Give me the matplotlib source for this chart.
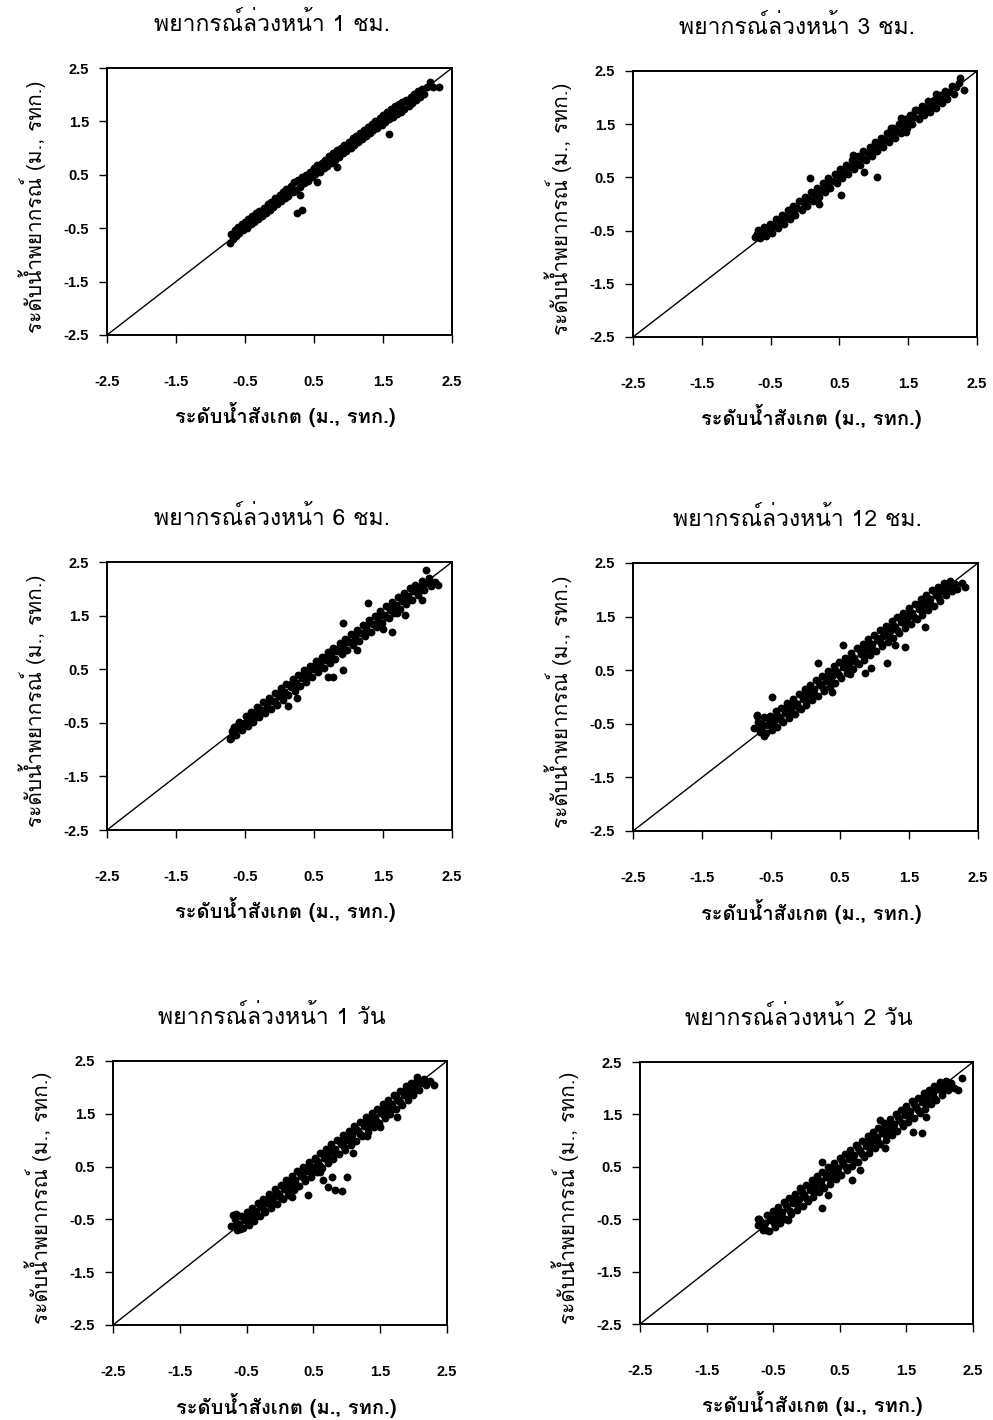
import matplotlib
matplotlib.use("Agg")
import matplotlib.pyplot as plt

plt.rcParams['font.family'] = ['Liberation Sans', 'DejaVu Sans']
THAI = ['Loma', 'DejaVu Sans']

# ระดับน้ำสังเกต (obs) กับระดับน้ำพยากรณ์ (pred), ม. รทก.
obs_1h = [
    -0.72, -0.71, -0.68, -0.65, -0.63, -0.60, -0.58, -0.55, -0.53, -0.50,
    -0.47, -0.45, -0.42, -0.40, -0.37, -0.34, -0.31, -0.29, -0.26, -0.23,
    -0.20, -0.17, -0.14, -0.12, -0.09, -0.06, -0.03, 0.00, 0.02, 0.05,
    0.08, 0.10, 0.13, 0.16, 0.19, 0.21, 0.24, 0.27, 0.30, 0.33,
    0.36, 0.38, 0.41, 0.44, 0.47, 0.50, 0.52, 0.55, 0.58, 0.61,
    0.64, 0.66, 0.69, 0.72, 0.75, 0.78, 0.80, 0.83, 0.86, 0.89,
    0.92, 0.94, 0.97, 1.00, 1.03, 1.06, 1.08, 1.11, 1.14, 1.17,
    1.20, 1.22, 1.25, 1.28, 1.31, 1.34, 1.36, 1.39, 1.42, 1.45,
    1.48, 1.50, 1.53, 1.56, 1.59, 1.62, 1.64, 1.67, 1.70, 1.73,
    1.76, 1.78, 1.81, 1.84, 1.87, 1.90, 1.92, 1.95, 1.98, 2.01,
    2.04, 2.07, 2.10, 2.14, 2.18, 2.22, 2.31, 1.30, 1.45, 1.55,
    1.65, 1.75, 1.85, 1.95, 2.05, 1.15, 1.00, 0.85, 0.70, 0.55,
    0.40, 0.26, 0.33, 1.58, 0.30, 0.54, 0.83, -0.35, -0.10, 0.15,
]
pred_1h = [
    -0.78, -0.60, -0.70, -0.54, -0.64, -0.48, -0.59, -0.43, -0.54, -0.38,
    -0.49, -0.33, -0.43, -0.28, -0.38, -0.22, -0.33, -0.17, -0.27, -0.12,
    -0.22, -0.05, -0.16, 0.00, -0.10, 0.06, -0.04, 0.12, 0.01, 0.17,
    0.06, 0.24, 0.11, 0.29, 0.17, 0.36, 0.22, 0.40, 0.27, 0.46,
    0.34, 0.50, 0.39, 0.56, 0.45, 0.62, 0.51, 0.68, 0.56, 0.73,
    0.62, 0.78, 0.67, 0.85, 0.73, 0.90, 0.78, 0.96, 0.84, 1.01,
    0.90, 1.06, 0.95, 1.12, 1.01, 1.18, 1.06, 1.23, 1.12, 1.29,
    1.17, 1.34, 1.22, 1.40, 1.28, 1.46, 1.33, 1.51, 1.38, 1.57,
    1.44, 1.62, 1.49, 1.67, 1.54, 1.73, 1.59, 1.78, 1.64, 1.83,
    1.68, 1.86, 1.74, 1.91, 1.79, 1.96, 1.85, 2.01, 1.90, 2.06,
    1.96, 2.10, 2.02, 2.15, 2.24, 2.14, 2.14, 1.36, 1.51, 1.61,
    1.70, 1.80, 1.88, 1.97, 2.04, 1.21, 1.06, 0.91, 0.76, 0.61,
    0.46, -0.22, -0.15, 1.26, 0.12, 0.37, 0.65, -0.30, -0.04, 0.21,
]

obs_3h = [
    -0.73, -0.70, -0.68, -0.65, -0.62, -0.59, -0.56, -0.53, -0.51, -0.48,
    -0.45, -0.42, -0.39, -0.36, -0.34, -0.31, -0.28, -0.25, -0.22, -0.19,
    -0.17, -0.14, -0.11, -0.08, -0.05, -0.02, 0.00, 0.03, 0.06, 0.09,
    0.12, 0.15, 0.17, 0.20, 0.23, 0.26, 0.29, 0.32, 0.34, 0.37,
    0.40, 0.43, 0.46, 0.49, 0.51, 0.54, 0.57, 0.60, 0.63, 0.66,
    0.68, 0.71, 0.74, 0.77, 0.80, 0.83, 0.85, 0.88, 0.91, 0.94,
    0.97, 1.00, 1.02, 1.05, 1.08, 1.11, 1.14, 1.17, 1.19, 1.22,
    1.25, 1.28, 1.31, 1.34, 1.36, 1.39, 1.42, 1.45, 1.48, 1.51,
    1.53, 1.56, 1.59, 1.62, 1.65, 1.68, 1.70, 1.73, 1.76, 1.79,
    1.82, 1.85, 1.87, 1.90, 1.93, 1.96, 1.99, 2.02, 2.04, 2.07,
    2.10, 2.13, 2.16, 2.20, 2.24, 0.53, 1.04, 2.31, 2.26, 0.86,
    0.07, 0.21, 1.40, 1.47, 1.90, -0.60, -0.66, 0.70, 1.25, 1.60,
]
pred_3h = [
    -0.62, -0.56, -0.48, -0.64, -0.53, -0.44, -0.60, -0.48, -0.38, -0.54,
    -0.41, -0.28, -0.45, -0.32, -0.20, -0.37, -0.24, -0.11, -0.28, -0.15,
    -0.03, -0.20, -0.07, 0.06, -0.11, 0.02, 0.14, -0.03, 0.10, 0.23,
    0.06, 0.19, 0.31, 0.14, 0.27, 0.40, 0.23, 0.36, 0.48, 0.31,
    0.44, 0.57, 0.40, 0.53, 0.65, 0.48, 0.61, 0.74, 0.57, 0.70,
    0.82, 0.65, 0.78, 0.91, 0.74, 0.87, 0.99, 0.82, 0.95, 1.08,
    0.91, 1.04, 1.16, 0.99, 1.12, 1.25, 1.08, 1.21, 1.33, 1.16,
    1.29, 1.42, 1.25, 1.38, 1.50, 1.33, 1.46, 1.59, 1.42, 1.55,
    1.67, 1.50, 1.63, 1.76, 1.59, 1.72, 1.84, 1.67, 1.80, 1.93,
    1.72, 1.85, 1.95, 1.80, 1.93, 2.04, 1.89, 2.02, 2.12, 1.97,
    2.10, 2.21, 2.06, 2.19, 2.27, 0.17, 0.51, 2.14, 2.37, 0.60,
    0.49, 0.00, 1.62, 1.36, 2.06, -0.47, -0.50, 0.93, 1.43, 1.77,
]

obs_6h = [
    -0.72, -0.69, -0.66, -0.63, -0.61, -0.58, -0.55, -0.52, -0.49, -0.46,
    -0.44, -0.41, -0.38, -0.35, -0.32, -0.29, -0.27, -0.24, -0.21, -0.18,
    -0.15, -0.12, -0.10, -0.07, -0.04, -0.01, 0.02, 0.05, 0.07, 0.10,
    0.13, 0.16, 0.19, 0.22, 0.24, 0.27, 0.30, 0.33, 0.36, 0.39,
    0.41, 0.44, 0.47, 0.50, 0.53, 0.56, 0.58, 0.61, 0.64, 0.67,
    0.70, 0.73, 0.75, 0.78, 0.81, 0.84, 0.87, 0.90, 0.92, 0.95,
    0.98, 1.01, 1.04, 1.07, 1.09, 1.12, 1.15, 1.18, 1.21, 1.24,
    1.26, 1.29, 1.32, 1.35, 1.38, 1.41, 1.43, 1.46, 1.49, 1.52,
    1.55, 1.58, 1.60, 1.63, 1.66, 1.69, 1.72, 1.75, 1.77, 1.80,
    1.83, 1.86, 1.89, 1.92, 1.94, 1.97, 2.00, 2.03, 2.06, 2.09,
    2.12, 2.16, 2.20, 2.25, 2.30, 0.12, 0.25, 0.70, 0.92, 0.92,
    1.28, 1.63, 1.70, 2.13, 1.82, 0.78, 1.12, -0.70, 2.06, 1.50,
    -0.62, -0.54, -0.46, -0.38, -0.30, -0.22, -0.14, -0.06, 0.02, 0.10,
    0.18, 0.26, 0.34, 0.42, 0.50, 0.58, 0.66, 0.74, 0.82, 0.90,
    0.98, 1.06, 1.14, 1.22, 1.30, 1.38, 1.46, 1.54, 1.62, 1.70,
    1.78, 1.86, 1.94, 2.02, 2.10, 2.18,
]
pred_6h = [
    -0.80, -0.66, -0.57, -0.72, -0.60, -0.48, -0.64, -0.51, -0.38, -0.56,
    -0.43, -0.29, -0.49, -0.34, -0.21, -0.40, -0.26, -0.12, -0.32, -0.17,
    -0.03, -0.24, -0.09, 0.05, -0.16, 0.00, 0.14, -0.07, 0.08, 0.22,
    0.01, 0.17, 0.31, 0.10, 0.25, 0.39, 0.18, 0.33, 0.48, 0.27,
    0.42, 0.56, 0.35, 0.50, 0.65, 0.44, 0.59, 0.73, 0.52, 0.67,
    0.82, 0.61, 0.76, 0.90, 0.69, 0.84, 0.99, 0.78, 0.93, 1.07,
    0.86, 1.01, 1.16, 0.95, 1.10, 1.24, 1.03, 1.18, 1.33, 1.12,
    1.27, 1.41, 1.20, 1.35, 1.50, 1.29, 1.44, 1.58, 1.37, 1.52,
    1.67, 1.46, 1.61, 1.75, 1.54, 1.69, 1.84, 1.63, 1.78, 1.92,
    1.71, 1.86, 2.01, 1.80, 1.95, 2.08, 1.88, 2.03, 2.15, 1.97,
    2.10, 2.20, 2.06, 2.12, 2.07, -0.18, -0.04, 0.35, 0.49, 1.36,
    1.73, 1.19, 1.55, 2.35, 1.51, 0.36, 0.86, -0.78, 1.79, 1.25,
    -0.56, -0.60, -0.40, -0.44, -0.24, -0.28, -0.08, -0.12, 0.08, 0.04,
    0.24, 0.20, 0.40, 0.36, 0.56, 0.52, 0.72, 0.68, 0.88, 0.84,
    1.04, 1.00, 1.20, 1.16, 1.36, 1.32, 1.52, 1.48, 1.68, 1.64,
    1.84, 1.80, 2.00, 1.96, 2.10, 2.12,
]

obs_12h = [
    -0.74, -0.71, -0.69, -0.66, -0.63, -0.60, -0.57, -0.55, -0.52, -0.49,
    -0.46, -0.43, -0.41, -0.38, -0.35, -0.32, -0.29, -0.27, -0.24, -0.21,
    -0.18, -0.15, -0.13, -0.10, -0.07, -0.04, -0.01, 0.01, 0.04, 0.07,
    0.10, 0.13, 0.15, 0.18, 0.21, 0.24, 0.27, 0.29, 0.32, 0.35,
    0.38, 0.41, 0.43, 0.46, 0.49, 0.52, 0.55, 0.57, 0.60, 0.63,
    0.66, 0.69, 0.71, 0.74, 0.77, 0.80, 0.83, 0.85, 0.88, 0.91,
    0.94, 0.97, 0.99, 1.02, 1.05, 1.08, 1.11, 1.13, 1.16, 1.19,
    1.22, 1.25, 1.27, 1.30, 1.33, 1.36, 1.39, 1.41, 1.44, 1.47,
    1.50, 1.53, 1.55, 1.58, 1.61, 1.64, 1.67, 1.69, 1.72, 1.75,
    1.78, 1.81, 1.83, 1.86, 1.89, 1.92, 1.95, 1.97, 2.00, 2.03,
    2.06, 2.09, 2.12, 2.16, 2.20, 2.31, -0.49, 0.38, 0.86, 1.18,
    1.44, 1.73, 2.27, -0.70, -0.60, 0.65, 0.95, 1.30, 0.18, 0.54,
    -0.65, -0.59, -0.53, -0.47, -0.41, -0.35, -0.29, -0.23, -0.17, -0.11,
    -0.05, 0.01, 0.07, 0.13, 0.19, 0.25, 0.31, 0.37, 0.43, 0.49,
    0.55, 0.61, 0.67, 0.73, 0.79, 0.85, 0.91, 0.97, 1.03, 1.09,
    1.15, 1.21, 1.27, 1.33, 1.39, 1.45, 1.51, 1.57, 1.63, 1.69,
    1.75, 1.81, 1.87, 1.93, 1.99, 2.05, 2.11, 2.15,
]
pred_12h = [
    -0.58, -0.36, -0.46, -0.66, -0.50, -0.38, -0.68, -0.52, -0.35, -0.62,
    -0.45, -0.27, -0.56, -0.37, -0.20, -0.47, -0.29, -0.12, -0.40, -0.21,
    -0.03, -0.31, -0.13, 0.06, -0.22, -0.04, 0.15, -0.15, 0.05, 0.23,
    -0.06, 0.14, 0.31, 0.02, 0.22, 0.40, 0.11, 0.30, 0.49, 0.19,
    0.39, 0.57, 0.27, 0.47, 0.65, 0.36, 0.56, 0.73, 0.44, 0.64,
    0.83, 0.53, 0.72, 0.91, 0.61, 0.81, 0.99, 0.69, 0.89, 1.08,
    0.78, 0.98, 1.16, 0.86, 1.06, 1.25, 0.95, 1.14, 1.33, 1.03,
    1.23, 1.41, 1.11, 1.31, 1.50, 1.20, 1.40, 1.57, 1.28, 1.48,
    1.66, 1.37, 1.56, 1.74, 1.45, 1.65, 1.83, 1.53, 1.73, 1.91,
    1.62, 1.82, 1.99, 1.70, 1.90, 2.06, 1.80, 1.98, 2.13, 1.90,
    2.05, 2.16, 1.98, 2.10, 2.02, 2.05, 0.00, 0.09, 0.45, 0.63,
    0.93, 1.31, 2.12, -0.34, -0.72, 0.42, 0.55, 0.97, 0.63, 0.97,
    -0.57, -0.67, -0.45, -0.55, -0.33, -0.43, -0.21, -0.31, -0.09, -0.19,
    0.03, -0.07, 0.15, 0.05, 0.27, 0.17, 0.39, 0.29, 0.51, 0.41,
    0.63, 0.53, 0.75, 0.65, 0.87, 0.77, 0.99, 0.89, 1.11, 1.01,
    1.23, 1.13, 1.35, 1.25, 1.47, 1.37, 1.59, 1.49, 1.71, 1.61,
    1.83, 1.73, 1.95, 1.85, 2.06, 1.97, 2.12, 2.06,
]

obs_1d = [
    -0.73, -0.70, -0.67, -0.64, -0.62, -0.59, -0.56, -0.53, -0.50, -0.47,
    -0.45, -0.42, -0.39, -0.36, -0.33, -0.30, -0.28, -0.25, -0.22, -0.19,
    -0.16, -0.13, -0.11, -0.08, -0.05, -0.02, 0.01, 0.04, 0.06, 0.09,
    0.12, 0.15, 0.18, 0.21, 0.23, 0.26, 0.29, 0.32, 0.35, 0.38,
    0.40, 0.43, 0.46, 0.49, 0.52, 0.55, 0.57, 0.60, 0.63, 0.66,
    0.69, 0.72, 0.74, 0.77, 0.80, 0.83, 0.86, 0.89, 0.91, 0.94,
    0.97, 1.00, 1.03, 1.06, 1.08, 1.11, 1.14, 1.17, 1.20, 1.23,
    1.25, 1.28, 1.31, 1.34, 1.37, 1.40, 1.42, 1.45, 1.48, 1.51,
    1.54, 1.57, 1.59, 1.62, 1.65, 1.68, 1.71, 1.74, 1.76, 1.79,
    1.82, 1.85, 1.88, 1.91, 1.93, 1.96, 1.99, 2.02, 2.05, 2.08,
    2.11, 2.15, 2.19, 2.24, 2.31, 0.64, 0.78, 0.72, 0.82, 0.93,
    1.00, 0.42, 0.18, 1.10, -0.66, 1.75, 1.50, 0.60, 2.05, 1.30,
    -0.66, -0.60, -0.54, -0.48, -0.42, -0.36, -0.30, -0.24, -0.18, -0.12,
    -0.06, 0.00, 0.06, 0.12, 0.18, 0.24, 0.30, 0.36, 0.42, 0.48,
    0.54, 0.60, 0.66, 0.72, 0.78, 0.84, 0.90, 0.96, 1.02, 1.08,
    1.14, 1.20, 1.26, 1.32, 1.38, 1.44, 1.50, 1.56, 1.62, 1.68,
    1.74, 1.80, 1.86, 1.92, 1.98, 2.04, 2.10, 2.18,
]
pred_1d = [
    -0.63, -0.42, -0.50, -0.70, -0.58, -0.44, -0.66, -0.52, -0.36, -0.60,
    -0.44, -0.28, -0.53, -0.35, -0.19, -0.44, -0.27, -0.11, -0.36, -0.18,
    -0.01, -0.28, -0.10, 0.07, -0.20, -0.01, 0.16, -0.11, 0.07, 0.24,
    -0.03, 0.16, 0.33, 0.06, 0.24, 0.41, 0.14, 0.33, 0.50, 0.23,
    0.41, 0.58, 0.31, 0.50, 0.67, 0.40, 0.58, 0.75, 0.48, 0.67,
    0.84, 0.57, 0.75, 0.92, 0.65, 0.84, 1.01, 0.74, 0.92, 1.09,
    0.82, 1.01, 1.18, 0.91, 1.09, 1.26, 0.99, 1.18, 1.35, 1.08,
    1.26, 1.43, 1.16, 1.35, 1.52, 1.25, 1.43, 1.60, 1.33, 1.52,
    1.69, 1.42, 1.60, 1.77, 1.50, 1.69, 1.86, 1.59, 1.77, 1.94,
    1.67, 1.86, 2.02, 1.76, 1.94, 2.08, 1.85, 2.02, 2.14, 1.95,
    2.08, 2.16, 2.04, 2.12, 2.05, 0.25, 0.30, 0.12, 0.06, 0.04,
    0.30, -0.04, -0.08, 0.76, -0.40, 1.44, 1.25, 0.40, 2.20, 1.08,
    -0.58, -0.68, -0.47, -0.56, -0.35, -0.44, -0.23, -0.32, -0.11, -0.20,
    0.02, -0.08, 0.14, 0.04, 0.26, 0.16, 0.38, 0.28, 0.50, 0.40,
    0.62, 0.52, 0.74, 0.64, 0.86, 0.76, 0.98, 0.88, 1.10, 1.00,
    1.22, 1.12, 1.34, 1.24, 1.46, 1.36, 1.58, 1.48, 1.70, 1.60,
    1.82, 1.72, 1.94, 1.84, 2.05, 1.96, 2.10, 2.10,
]

obs_2d = [
    -0.73, -0.71, -0.68, -0.65, -0.62, -0.60, -0.57, -0.54, -0.51, -0.48,
    -0.46, -0.43, -0.40, -0.37, -0.34, -0.32, -0.29, -0.26, -0.23, -0.20,
    -0.18, -0.15, -0.12, -0.09, -0.06, -0.04, -0.01, 0.02, 0.05, 0.08,
    0.10, 0.13, 0.16, 0.19, 0.22, 0.24, 0.27, 0.30, 0.33, 0.36,
    0.38, 0.41, 0.44, 0.47, 0.50, 0.52, 0.55, 0.58, 0.61, 0.64,
    0.66, 0.69, 0.72, 0.75, 0.78, 0.80, 0.83, 0.86, 0.89, 0.92,
    0.94, 0.97, 1.00, 1.03, 1.06, 1.08, 1.11, 1.14, 1.17, 1.20,
    1.22, 1.25, 1.28, 1.31, 1.34, 1.36, 1.39, 1.42, 1.45, 1.48,
    1.50, 1.53, 1.56, 1.59, 1.62, 1.64, 1.67, 1.70, 1.73, 1.76,
    1.78, 1.81, 1.84, 1.87, 1.90, 1.92, 1.95, 1.98, 2.01, 2.04,
    2.06, 2.09, 2.13, 2.17, 2.21, 0.23, 0.33, 0.68, 1.73, 1.60,
    1.80, 2.33, 2.28, -0.73, 1.18, 0.80, -0.10, 1.10, 0.23, -0.28,
    -0.67, -0.61, -0.55, -0.49, -0.43, -0.37, -0.31, -0.25, -0.19, -0.13,
    -0.07, -0.01, 0.05, 0.11, 0.17, 0.23, 0.29, 0.35, 0.41, 0.47,
    0.53, 0.59, 0.65, 0.71, 0.77, 0.83, 0.89, 0.95, 1.01, 1.07,
    1.13, 1.19, 1.25, 1.31, 1.37, 1.43, 1.49, 1.55, 1.61, 1.67,
    1.73, 1.79, 1.85, 1.91, 1.97, 2.03, 2.09, 2.15,
]
pred_2d = [
    -0.62, -0.50, -0.55, -0.70, -0.57, -0.42, -0.72, -0.52, -0.34, -0.64,
    -0.45, -0.27, -0.58, -0.36, -0.18, -0.50, -0.28, -0.10, -0.41, -0.19,
    -0.02, -0.33, -0.11, 0.07, -0.24, -0.03, 0.15, -0.16, 0.06, 0.24,
    -0.08, 0.14, 0.32, 0.01, 0.23, 0.40, 0.09, 0.31, 0.49, 0.18,
    0.39, 0.57, 0.26, 0.48, 0.66, 0.34, 0.56, 0.74, 0.43, 0.65,
    0.82, 0.51, 0.73, 0.91, 0.60, 0.81, 0.99, 0.68, 0.90, 1.08,
    0.76, 0.98, 1.16, 0.85, 1.07, 1.24, 0.93, 1.15, 1.33, 1.02,
    1.23, 1.41, 1.10, 1.32, 1.50, 1.18, 1.40, 1.58, 1.27, 1.49,
    1.66, 1.35, 1.57, 1.75, 1.44, 1.65, 1.82, 1.52, 1.74, 1.90,
    1.60, 1.82, 1.97, 1.69, 1.90, 2.05, 1.78, 1.98, 2.12, 1.87,
    2.04, 2.14, 1.97, 2.10, 2.00, -0.29, -0.04, 0.25, 1.14, 1.17,
    1.45, 2.19, 1.97, -0.50, 0.86, 0.44, 0.10, 1.40, 0.59, -0.52,
    -0.59, -0.70, -0.47, -0.58, -0.35, -0.46, -0.23, -0.34, -0.11, -0.22,
    0.01, -0.10, 0.13, 0.02, 0.25, 0.14, 0.37, 0.26, 0.49, 0.38,
    0.61, 0.50, 0.73, 0.62, 0.85, 0.74, 0.97, 0.86, 1.09, 0.98,
    1.21, 1.10, 1.33, 1.22, 1.45, 1.34, 1.57, 1.46, 1.69, 1.58,
    1.81, 1.70, 1.93, 1.82, 2.04, 1.94, 2.12, 2.05,
]

titles = [
    'พยากรณ์ล่วงหน้า 1 ชม.', 'พยากรณ์ล่วงหน้า 3 ชม.',
    'พยากรณ์ล่วงหน้า 6 ชม.', 'พยากรณ์ล่วงหน้า 12 ชม.',
    'พยากรณ์ล่วงหน้า 1 วัน', 'พยากรณ์ล่วงหน้า 2 วัน',
]
series = [(obs_1h, pred_1h), (obs_3h, pred_3h), (obs_6h, pred_6h),
          (obs_12h, pred_12h), (obs_1d, pred_1d), (obs_2d, pred_2d)]
ticks = [-2.5, -1.5, -0.5, 0.5, 1.5, 2.5]
xlabel = 'ระดับน้ำสังเกต (ม., รทก.)'
ylabel = 'ระดับน้ำพยากรณ์ (ม., รทก.)'

W, H = 993, 1420
# กรอบกราฟแต่ละรูป (พิกเซล): ซ้าย, บน, ขวา, ล่าง
boxes = [(107, 68, 452, 335), (633, 71, 977, 337),
         (107, 562, 452, 830), (633, 563, 978, 831),
         (113, 1061, 447, 1325), (640, 1062, 973, 1324)]

fig = plt.figure(figsize=(W / 100, H / 100), dpi=100)

for (l, t, r, b), title, (obs, pred) in zip(boxes, titles, series):
    ax = fig.add_axes([l / W, 1 - b / H, (r - l) / W, (b - t) / H])
    ax.plot([ticks[0], ticks[-1]], [ticks[0], ticks[-1]], color='black', lw=1.0, zorder=2)
    ax.scatter(obs, pred, s=32, color='black', linewidths=0, zorder=3)
    ax.set_xlim(-2.5, 2.5)
    ax.set_ylim(-2.5, 2.5)
    ax.set_xticks(ticks)
    ax.set_yticks(ticks)
    ax.set_xticklabels([f'{v:g}' for v in ticks])
    ax.set_yticklabels([f'{v:g}' for v in ticks])
    ax.tick_params(direction='out', length=6, width=1.0, labelsize=10.5)
    ax.tick_params(axis='x', pad=23)
    ax.tick_params(axis='y', pad=7)
    for lbl in ax.get_xticklabels() + ax.get_yticklabels():
        lbl.set_fontweight('bold')
    for sp in ax.spines.values():
        sp.set_linewidth(1.4)

    cx = (l + r) / 2
    cy = (t + b) / 2
    fig.text((cx - 8) / W, 1 - (t - 44) / H, title, ha='center', va='center',
             fontsize=16.5, family=THAI)
    fig.text((cx + 6) / W, 1 - (b + 80) / H, xlabel, ha='center', va='center',
             fontsize=14.5, fontweight='bold', family=THAI)
    fig.text((l - 75) / W, 1 - (cy + 5) / H, ylabel, ha='center', va='center',
             rotation=90, fontsize=15, family=THAI)

fig.savefig('out.png', dpi=100, facecolor='white')
